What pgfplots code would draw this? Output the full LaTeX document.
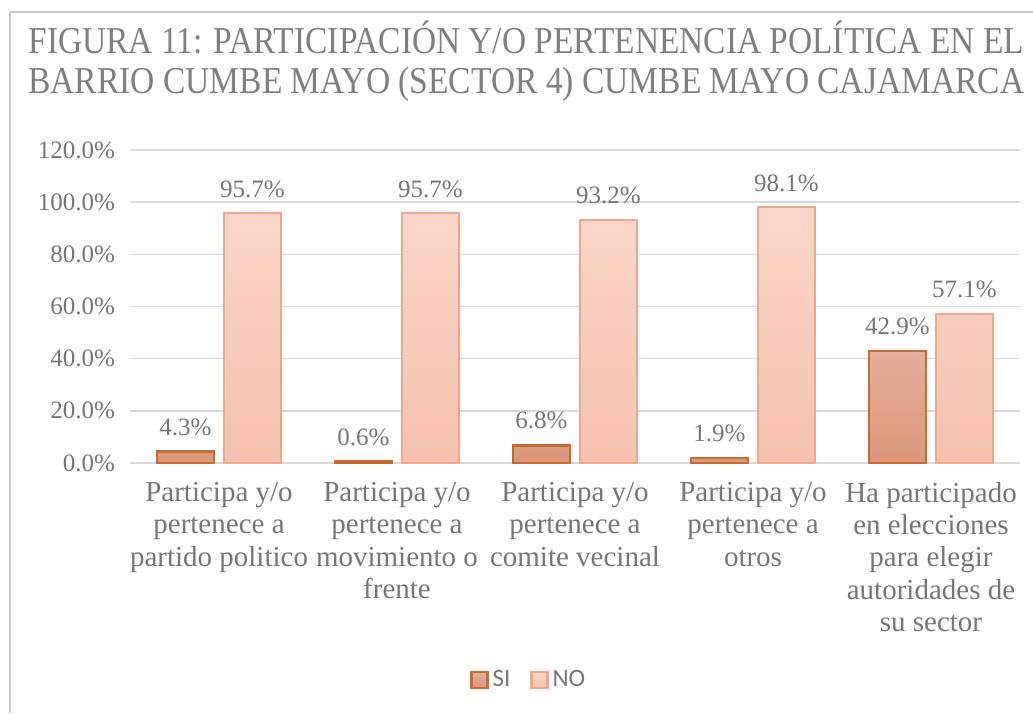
\documentclass[border=0pt]{standalone}
\usepackage{fontspec}
\setmainfont{Liberation Serif}
\newfontfamily\legfont{Carlito}
\usepackage{graphicx}
\usepackage{pgfplots}
\pgfplotsset{compat=1.18}
\definecolor{siTop}{HTML}{E4B09A}
\definecolor{siBot}{HTML}{DA967A}
\definecolor{siEdge}{HTML}{C96A2F}
\definecolor{noTop}{HTML}{FAD6C8}
\definecolor{noBot}{HTML}{F6C1AD}
\definecolor{noEdge}{HTML}{EFA68B}
\definecolor{gridcol}{HTML}{D9D9D9}
\definecolor{framecol}{HTML}{C8C8C8}
\definecolor{titlecol}{HTML}{7F7F7F}
\definecolor{labcol}{HTML}{767676}

\begin{document}
\begin{tikzpicture}
\useasboundingbox (0,0) rectangle (516.5pt,356.5pt);
\draw[framecol, line width=1pt] (5pt,0) -- (5pt,350.5pt) -- (516.5pt,350.5pt);
\node[anchor=base west, inner sep=0, text=titlecol] at (14pt,329.5pt)
  {\resizebox{498pt}{\height}{\fontsize{19}{20}\selectfont FIGURA 11: PARTICIPACIÓN Y/O PERTENENCIA POLÍTICA EN EL}};
\node[anchor=base west, inner sep=0, text=titlecol] at (14pt,309.5pt)
  {\resizebox{498pt}{\height}{\fontsize{19}{20}\selectfont BARRIO CUMBE MAYO (SECTOR 4) CUMBE MAYO CAJAMARCA}};
\begin{axis}[
    at={(65pt,125pt)}, anchor=south west,
    scale only axis, width=445pt, height=156.5pt,
    ybar=5pt, bar width=28.5pt,
    xmin=-0.5, xmax=4.5, ymin=0, ymax=120,
    xtick={0,1,2,3,4},
    xticklabels={
      {Participa y/o\\pertenece a\\partido politico},
      {Participa y/o\\pertenece a\\movimiento o\\frente},
      {Participa y/o\\pertenece a\\comite vecinal},
      {Participa y/o\\pertenece a\\otros},
      {Ha participado\\en elecciones\\para elegir\\autoridades de\\su sector}},
    xticklabel style={align=center, font=\fontsize{14.5}{16.2}\selectfont, text=labcol, yshift=-6pt},
    ytick={0,20,...,120},
    yticklabel={\pgfmathprintnumber[fixed,fixed zerofill,precision=1,assume math mode=true]{\tick}\%},
    yticklabel style={font=\fontsize{12.5}{14}\selectfont, text=labcol, xshift=-4pt},
    major tick length=0pt,
    axis line style={draw=none},
    ymajorgrids, grid style={gridcol, line width=0.75pt},
    nodes near coords={\pgfmathprintnumber[fixed,fixed zerofill,precision=1,assume math mode=true]{\pgfplotspointmeta}\%},
    nodes near coords style={font=\fontsize{12.5}{14}\selectfont, text=labcol, yshift=4pt},
    clip=false,
    legend style={at={(0.449,-0.693)}, anchor=center, draw=none, fill=none,
      legend columns=-1, font=\legfont\fontsize{12.5}{14}\selectfont, text=labcol,
      /tikz/every even column/.append style={column sep=8pt}},
    legend image code/.code={\draw[#1] (0pt,-4pt) rectangle (8pt,4pt);},
]
\addplot[draw=siEdge, line width=1.3pt, top color=siTop, bottom color=siBot]
  coordinates {(0,4.3) (1,0.6) (2,6.8) (3,1.9) (4,42.9)};
\addlegendentry{SI}
\addplot[draw=noEdge, line width=1.1pt, top color=noTop, bottom color=noBot]
  coordinates {(0,95.7) (1,95.7) (2,93.2) (3,98.1) (4,57.1)};
\addlegendentry{NO}
\end{axis}
\end{tikzpicture}
\end{document}
